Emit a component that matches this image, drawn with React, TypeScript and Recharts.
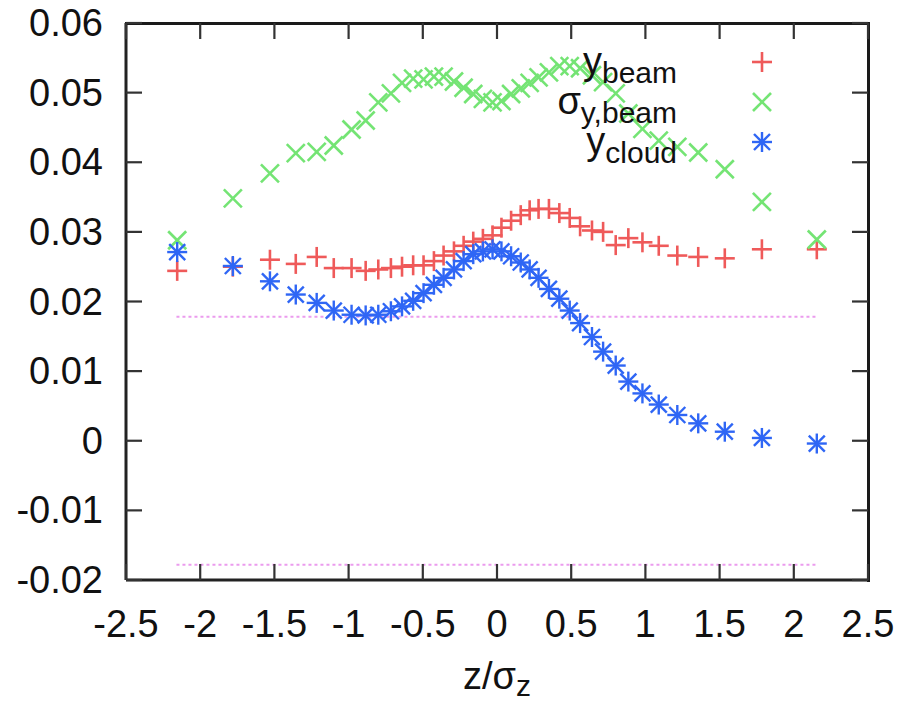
import React from "react";
import { ScatterChart, Scatter, XAxis, YAxis, ReferenceLine, Legend } from "recharts";

// slice centres along the bunch, z / sigma_z
const zPositions = [
  -2.155, -1.78, -1.53, -1.356, -1.215, -1.1, -0.98, -0.885, -0.8, -0.715,
  -0.64, -0.565, -0.495, -0.425, -0.36, -0.29, -0.225, -0.16, -0.095, -0.03,
  0.03, 0.095, 0.16, 0.22, 0.28, 0.35, 0.42, 0.49, 0.56, 0.64,
  0.715, 0.8, 0.885, 0.98, 1.09, 1.215, 1.356, 1.535, 1.785, 2.155,
];

const yBeam = [
  0.0244, 0.025, 0.026, 0.0254, 0.0264, 0.0248, 0.0248, 0.0244, 0.0246, 0.0248,
  0.025, 0.0252, 0.0252, 0.0258, 0.0266, 0.0272, 0.028, 0.0286, 0.029, 0.0295,
  0.0306, 0.0316, 0.0324, 0.0331, 0.0333, 0.0333, 0.0327, 0.032, 0.0308, 0.0302,
  0.03, 0.0281, 0.0291, 0.0285, 0.028, 0.0266, 0.0264, 0.0262, 0.0275, 0.0275,
];

const sigmaYBeam = [
  0.0288, 0.0348, 0.0384, 0.0413, 0.0415, 0.0424, 0.0447, 0.046, 0.0486, 0.0499,
  0.0514, 0.052, 0.0519, 0.0523, 0.0523, 0.0516, 0.0507, 0.0498, 0.0491, 0.0486,
  0.0488, 0.0498, 0.0506, 0.0514, 0.0522, 0.0529, 0.0538, 0.0538, 0.0535, 0.0525,
  0.0515, 0.0499, 0.047, 0.0448, 0.0431, 0.0422, 0.0414, 0.039, 0.0343, 0.0289,
];

const yCloud = [
  0.0271, 0.0251, 0.0229, 0.021, 0.0198, 0.0187, 0.0181, 0.018, 0.0181, 0.0186,
  0.0193, 0.0201, 0.0212, 0.0224, 0.0234, 0.0246, 0.0258, 0.0268, 0.0272, 0.0275,
  0.0272, 0.0265, 0.0256, 0.0246, 0.0234, 0.0218, 0.0204, 0.0187, 0.0169, 0.0149,
  0.0128, 0.0108, 0.0085, 0.0068, 0.0052, 0.0037, 0.0025, 0.0013, 0.0004, -0.0004,
];

const xTicks = [-2.5, -2, -1.5, -1, -0.5, 0, 0.5, 1, 1.5, 2, 2.5];
const yTicks = [-0.02, -0.01, 0, 0.01, 0.02, 0.03, 0.04, 0.05, 0.06];
const xDomain = [-2.5, 2.5];
const yDomain = [-0.02, 0.06];

// dotted limits
const boundLevels = [0.0178, -0.0178];
const boundRange = [-2.16, 2.15];

const legendMain = ["y", "σ", "y"];
const legendSub = ["beam", "y,beam", "cloud"];

const RED = "#ef5a5a";
const GREEN = "#74e474";
const BLUE = "#2f66f5";
const INK = "#111";
const TICK = "#333";
const FONT = "'Liberation Sans', Arial, sans-serif";
const TICK_LEN = 16;

const W = 903;
const H = 702;
const MARGIN = { top: 23, right: 35, left: 0, bottom: 42 };
const Y_AXIS_W = 126;
const X_AXIS_H = 80;
// plot box, same numbers the chart lays itself out with
const box = {
  left: MARGIN.left + Y_AXIS_W,
  right: W - MARGIN.right,
  top: MARGIN.top,
  bottom: H - MARGIN.bottom - X_AXIS_H,
};
const px = (v: number) => box.left + ((v - xDomain[0]) / (xDomain[1] - xDomain[0])) * (box.right - box.left);
const py = (v: number) => box.bottom - ((v - yDomain[0]) / (yDomain[1] - yDomain[0])) * (box.bottom - box.top);

const toPoints = (ys: number[]) => zPositions.map((z, i) => ({ x: z, y: ys[i] }));

const Plus = ({ cx, cy, color }: any) => (
  <g stroke={color} strokeWidth={2.6}>
    <line x1={cx - 10} y1={cy} x2={cx + 10} y2={cy} />
    <line x1={cx} y1={cy - 10} x2={cx} y2={cy + 10} />
  </g>
);

const Cross = ({ cx, cy, color }: any) => (
  <g stroke={color} strokeWidth={2.6}>
    <line x1={cx - 9} y1={cy - 9} x2={cx + 9} y2={cy + 9} />
    <line x1={cx - 9} y1={cy + 9} x2={cx + 9} y2={cy - 9} />
  </g>
);

const Star = ({ cx, cy, color }: any) => (
  <g stroke={color} strokeWidth={2.4}>
    <line x1={cx - 10} y1={cy} x2={cx + 10} y2={cy} />
    <line x1={cx} y1={cy - 10} x2={cx} y2={cy + 10} />
    <line x1={cx - 8} y1={cy - 8} x2={cx + 8} y2={cy + 8} />
    <line x1={cx - 8} y1={cy + 8} x2={cx + 8} y2={cy - 8} />
  </g>
);

const markers = [
  (p: any) => <Plus {...p} color={RED} />,
  (p: any) => <Cross {...p} color={GREEN} />,
  (p: any) => <Star {...p} color={BLUE} />,
];

const BottomTick = ({ x, y, payload }: any) => (
  <text x={Number(x)} y={Number(y) + 27} textAnchor="middle" fontSize={38} fontFamily={FONT} fill={INK}>
    {String(payload.value)}
  </text>
);

const LeftTick = ({ x, y, payload }: any) => (
  <text x={Number(x)} y={Number(y) + 13} textAnchor="end" fontSize={38} fontFamily={FONT} fill={INK}>
    {String(payload.value)}
  </text>
);

// inward ticks on all four sides (gnuplot style)
const Ticks = () => (
  <g stroke={TICK} strokeWidth={2.2}>
    {xTicks.map((t) => (
      <g key={"x" + t}>
        <line x1={px(t)} y1={box.top} x2={px(t)} y2={box.top + TICK_LEN} />
        <line x1={px(t)} y1={box.bottom} x2={px(t)} y2={box.bottom - TICK_LEN} />
      </g>
    ))}
    {yTicks.map((t) => (
      <g key={"y" + t}>
        <line x1={box.left} y1={py(t)} x2={box.left + TICK_LEN} y2={py(t)} />
        <line x1={box.right} y1={py(t)} x2={box.right - TICK_LEN} y2={py(t)} />
      </g>
    ))}
  </g>
);

const renderLegend = () => (
  <svg width={W} height={H} style={{ overflow: "visible", display: "block" }}>
    {legendMain.map((m, i) => {
      const base = 74 + i * 40;
      return (
        <g key={i}>
          <text x={677} y={base} textAnchor="end" fontSize={38} fontFamily={FONT} fill={INK}>
            {m}
            <tspan fontSize={30} dy={9}>{legendSub[i]}</tspan>
          </text>
          {markers[i]({ cx: 762, cy: base - 12 })}
        </g>
      );
    })}
  </svg>
);

const AxisTitle = (props: any) => {
  const vb = props.viewBox || { x: box.left, y: box.bottom, width: box.right - box.left };
  return (
    <text x={vb.x + vb.width / 2} y={vb.y + 109} textAnchor="middle" fontSize={38} fontFamily={FONT} fill={INK}>
      z/σ<tspan fontSize={30} dy={7}>z</tspan>
    </text>
  );
};

const frame = { stroke: "#222", strokeWidth: 3 };

export default function App() {
  return (
    <div style={{ position: "absolute", left: 0, top: 0, width: W, height: H, background: "#fff" }}>
      <ScatterChart width={W} height={H} margin={MARGIN}>
        <XAxis
          type="number"
          dataKey="x"
          domain={xDomain}
          ticks={xTicks}
          tick={<BottomTick />}
          tickSize={0}
          tickMargin={30}
          tickLine={false}
          axisLine={frame}
          height={X_AXIS_H}
          interval={0}
          label={{ content: (p: any) => <AxisTitle {...p} /> }}
        />
        <YAxis
          type="number"
          dataKey="y"
          domain={yDomain}
          ticks={yTicks}
          tick={<LeftTick />}
          tickSize={0}
          tickMargin={23}
          tickLine={false}
          axisLine={frame}
          width={Y_AXIS_W}
          interval={0}
        />
        {boundLevels.map((lv) => (
          <ReferenceLine
            key={lv}
            segment={[{ x: boundRange[0], y: lv }, { x: boundRange[1], y: lv }]}
            stroke="#eb9cee"
            strokeWidth={2}
            strokeDasharray="3 3"
          />
        ))}
        <Scatter name="y_beam" data={toPoints(yBeam)} shape={markers[0]} isAnimationActive={false} />
        <Scatter name="sigma_y,beam" data={toPoints(sigmaYBeam)} shape={markers[1]} isAnimationActive={false} />
        <Scatter name="y_cloud" data={toPoints(yCloud)} shape={markers[2]} isAnimationActive={false} />
        <Legend
          layout="vertical"
          align="center"
          verticalAlign="middle"
          content={renderLegend}
          wrapperStyle={{ left: 0, top: 0, width: W, height: H, pointerEvents: "none" }}
        />
      </ScatterChart>
      {/* top and right sides of the box as plain borders, ticks drawn over the chart */}
      <div
        style={{
          position: "absolute",
          left: box.left - 1.5,
          top: box.top - 1.5,
          width: box.right - box.left,
          height: box.bottom - box.top,
          borderTop: "3px solid #1a1a1a",
          borderRight: "3px solid #1a1a1a",
          pointerEvents: "none",
        }}
      />
      <svg
        width={W}
        height={H}
        style={{ position: "absolute", left: 0, top: 0, pointerEvents: "none" }}
      >
        <Ticks />
      </svg>
    </div>
  );
}
